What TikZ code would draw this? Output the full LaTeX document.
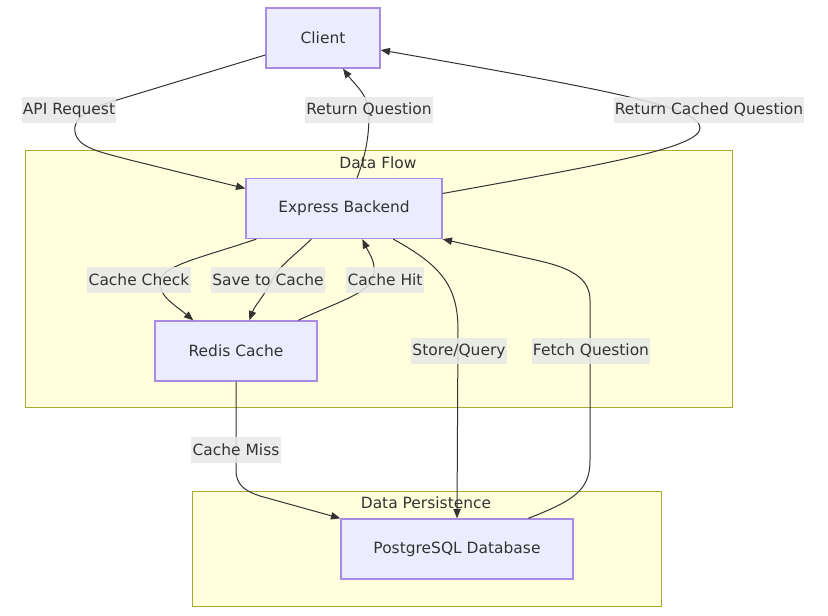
\documentclass[tikz,border=0pt]{standalone}
\usepackage{fontspec}
\setmainfont{DejaVu Sans}
\usetikzlibrary{arrows.meta,calc}

\definecolor{nodefill}{HTML}{ECECFF}
\definecolor{nodeline}{HTML}{A98BE3}
\definecolor{grpfill}{HTML}{FFFFDE}
\definecolor{grpline}{HTML}{AAAA33}
\definecolor{lblfill}{HTML}{E8E8E8}
\definecolor{ink}{HTML}{333333}

\begin{document}
\begin{tikzpicture}[x=0.75pt,y=-0.75pt,
  font=\fontsize{11.6}{14}\selectfont, text=ink,
  box/.style={draw=nodeline, fill=nodefill, line width=1pt, minimum height=45pt, inner sep=0pt},
  grp/.style={draw=grpline, fill=grpfill, line width=0.75pt},
  flow/.style={draw=ink, line width=0.75pt, -{Triangle[length=7pt,width=5.5pt]}},
  lbl/.style={fill=lblfill, fill opacity=0.85, text opacity=1, inner xsep=1pt, inner ysep=0pt, minimum height=19.5pt}]
  \fill[white] (0,0) rectangle (828,616);
  \useasboundingbox (0,0) rectangle (828,616);

  % 枠
  \draw[grp] (25,151) rectangle (732,408);
  \node (tFlow) at (378,163) {Data Flow};
  \draw[grp] (192,491) rectangle (661,606);
  \node (tPersist) at (426,503) {Data Persistence};

  % ノード
  \node[box, minimum width=85.5pt] (client) at (323,38) {Client};
  \node[box, minimum width=147pt] (backend) at (344,208.5) {Express Backend};
  \node[box, minimum width=121.5pt] (redis) at (236,351) {Redis Cache};
  \node[box, minimum width=174pt] (postgres) at (457,549) {PostgreSQL Database};

  % 矢印
  \draw[flow] ($(client.west)+(0,17)$) -- (117,100) .. controls (90,108) and (72,118) .. (75,132) .. controls (78,148) and (100,152) .. (130,160) -- ($(backend.west)+(0,-20)$);
  \draw[flow] ($(backend.north)+(13,0)$) .. controls (366,155) and (369,135) .. (369,115) .. controls (369,95) and (355,85) .. ($(client.south)+(20,0)$);
  \draw[flow] ($(backend.east)+(0,-15)$) .. controls (600,165) and (700,148) .. (700,128) .. controls (700,108) and (620,92) .. ($(client.east)+(0,12)$);
  \draw[flow] ($(backend.south west)+(11,0)$) .. controls (200,258) and (165,265) .. (160,280) .. controls (157,295) and (175,305) .. ($(redis.north west)+(39,0)$);
  \draw[flow] ($(backend.south west)+(66,0)$) .. controls (295,255) and (280,265) .. (272,280) .. controls (265,295) and (255,305) .. ($(redis.north west)+(95,0)$);
  \draw[flow] ($(redis.north west)+(144,0)$) .. controls (330,305) and (365,295) .. (372,280) .. controls (378,265) and (370,255) .. ($(backend.south west)+(117,0)$);
  \draw[flow] ($(backend.south west)+(148,0)$) .. controls (440,265) and (458,285) .. (458,330) -- (postgres.north);
  \draw[flow] ($(postgres.north west)+(188,0)$) .. controls (575,500) and (590,490) .. (590,460) -- (590,300) .. controls (590,278) and (570,268) .. (540,261) -- (backend.south east);
  \draw[flow] (redis.south) -- (236,470) .. controls (236,485) and (245,491) .. (260,496) -- (postgres.north west);

  % ラベル
  \node[lbl] (lApi) at (69,110) {API Request};
  \node[lbl] (lReturn) at (369,110) {Return Question};
  \node[lbl] (lCached) at (709,110) {Return Cached Question};
  \node[lbl] (lCheck) at (139,280) {Cache Check};
  \node[lbl] (lSave) at (268,280) {Save to Cache};
  \node[lbl] (lHit) at (385,280) {Cache Hit};
  \node[lbl] (lStore) at (459,351) {Store/Query};
  \node[lbl] (lFetch) at (591,351) {Fetch Question};
  \node[lbl] (lMiss) at (236,450) {Cache Miss};
\end{tikzpicture}
\end{document}
